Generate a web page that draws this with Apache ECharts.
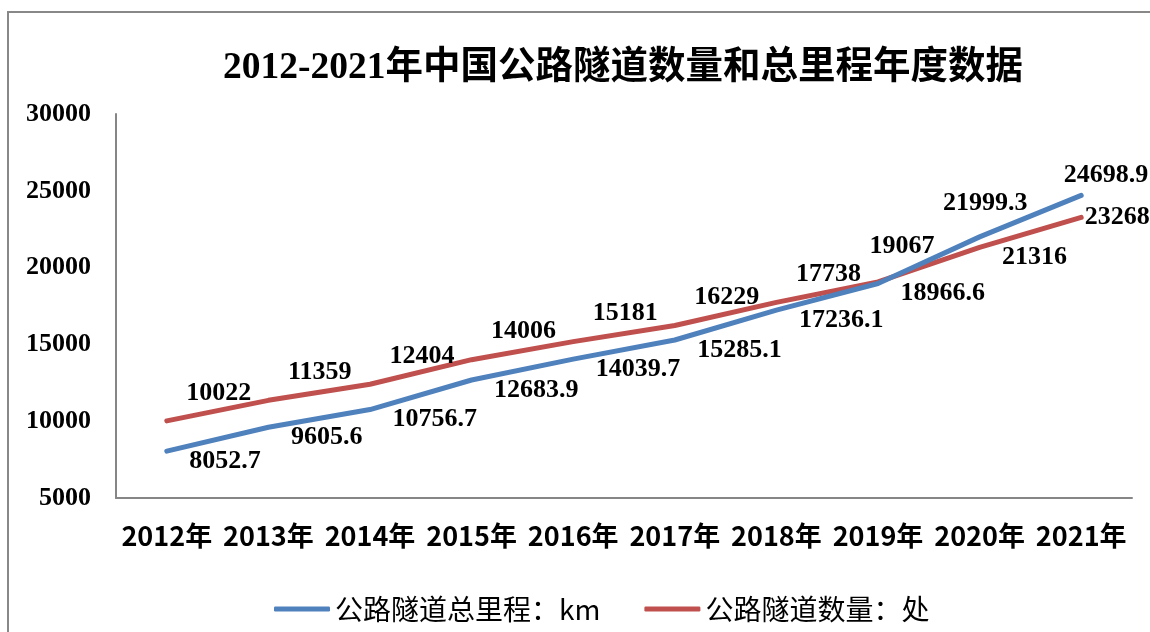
<!DOCTYPE html>
<html>
<head>
<meta charset="utf-8">
<script src="https://cdn.jsdelivr.net/npm/echarts@6/dist/echarts.min.js"></script>
<style>
  html, body { margin: 0; padding: 0; background: #fff; }
  #chart { width: 1150px; height: 632px; }
</style>
</head>
<body>
<div id="chart"></div>
<script>
const years = ['2012年', '2013年', '2014年', '2015年', '2016年', '2017年', '2018年', '2019年', '2020年', '2021年']
const mileage = [8052.7, 9605.6, 10756.7, 12683.9, 14039.7, 15285.1, 17236.1, 18966.6, 21999.3, 24698.9]
const tunnels = [10022, 11359, 12404, 14006, 15181, 16229, 17738, 19067, 21316, 23268]
const yTicks = [5000, 10000, 15000, 20000, 25000, 30000]

const SERIF = "'Liberation Serif', 'Times New Roman', 'Noto Sans CJK SC', serif"
const SANS = "'Noto Sans CJK SC', 'Liberation Sans', sans-serif"

// label placement tweaks, Excel put a few of them on the other side of the line
const blueOverrides = {
  8: { offset: [-37, -34] },
  9: { offset: [-18, -20] },
}
const redOverrides = {
  7: { offset: [-9, -36] },
  8: { offset: [22, 10] },
  9: { offset: [3, 0] },
}

function buildData(values, overrides) {
  return values.map((v, i) => {
    const o = overrides[i]
    if (!o) return v
    return { value: v, label: { offset: o.offset } }
  })
}

const chart = echarts.init(document.getElementById('chart'))

const labelBase = {
  show: true,
  position: 'right',
  distance: 0,
  color: '#000',
  fontSize: 26,
  fontWeight: 'bold',
  fontFamily: SERIF,
}

chart.setOption({
  backgroundColor: '#fff',
  animation: false,
  graphic: [{
    type: 'rect',
    shape: { x: 8, y: 12, width: 1300, height: 800 },
    style: { fill: 'none', stroke: '#888888', lineWidth: 2 },
    silent: true,
  }],
  title: {
    text: '2012-2021年中国公路隧道数量和总里程年度数据',
    left: 618,
    top: 45,
    textAlign: 'center',
    textStyle: {
      color: '#000',
      fontSize: 37.5,
      fontWeight: 'bold',
      fontFamily: SERIF,
    },
  },
  legend: {
    left: 269,
    top: 590,
    icon: 'roundRect',
    itemWidth: 56,
    itemHeight: 5,
    itemGap: 44,
    textStyle: {
      color: '#000',
      fontSize: 28,
      fontFamily: SANS,
    },
    data: ['公路隧道总里程：km', '公路隧道数量：处'],
  },
  grid: {
    left: 116,
    right: 18,
    top: 114,
    bottom: 134,
  },
  xAxis: {
    type: 'category',
    data: years,
    boundaryGap: true,
    axisLine: { lineStyle: { color: '#868686', width: 2 } },
    axisTick: { show: false },
    axisLabel: {
      color: '#000',
      fontSize: 27,
      fontWeight: 'bold',
      fontFamily: SANS,
      margin: 24,
      interval: 0,
    },
  },
  yAxis: {
    type: 'value',
    min: yTicks[0],
    max: yTicks[yTicks.length - 1],
    interval: 5000,
    axisLine: { show: true, lineStyle: { color: '#868686', width: 2 } },
    axisTick: { show: false },
    splitLine: { show: false },
    axisLabel: {
      color: '#000',
      fontSize: 26,
      fontWeight: 'bold',
      fontFamily: SERIF,
      margin: 25,
      formatter: (v) => String(v),
    },
  },
  series: [
    {
      name: '公路隧道总里程：km',
      type: 'line',
      data: buildData(mileage, blueOverrides),
      symbol: 'circle',
      symbolSize: 1,
      lineStyle: { color: '#4F81BD', width: 5, cap: 'round', join: 'round' },
      itemStyle: { color: '#4F81BD' },
      label: { ...labelBase, offset: [22, 10] },
      z: 3,
    },
    {
      name: '公路隧道数量：处',
      type: 'line',
      data: buildData(tunnels, redOverrides),
      symbol: 'circle',
      symbolSize: 1,
      lineStyle: { color: '#C0504D', width: 5, cap: 'round', join: 'round' },
      itemStyle: { color: '#C0504D' },
      label: { ...labelBase, offset: [19, -28] },
      z: 2,
    },
  ],
})
</script>
</body>
</html>
